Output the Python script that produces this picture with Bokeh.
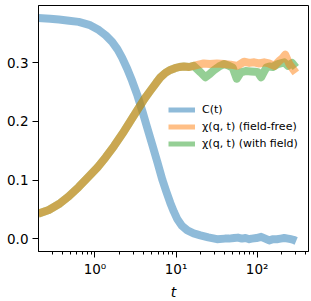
from bokeh.plotting import figure
from bokeh.models import (Range1d, FixedTicker, PrintfTickFormatter, Legend, LegendItem,
                          ColumnDataSource)
from bokeh.embed import file_html
from bokeh.resources import INLINE

# ---- data ----
t_C = [0.2, 0.28, 0.36, 0.48, 0.63, 0.85, 1.12, 1.36, 1.63, 1.9, 2.16, 2.5, 2.88, 3.35, 3.84,
       4.4, 5.1, 5.9, 6.8, 7.6, 8.5, 9.4, 10.3, 11.8, 13.8, 16.5, 20, 25, 32, 40, 45, 52, 58,
       65, 72, 80, 86, 98, 112, 126, 141, 158, 175, 195, 216, 240, 260, 280, 303]
C_vals = [0.3766, 0.3755, 0.374, 0.372, 0.370, 0.365, 0.356, 0.347, 0.336, 0.323, 0.309, 0.290,
          0.269, 0.244, 0.218, 0.190, 0.160, 0.130, 0.100, 0.080, 0.061, 0.046, 0.034, 0.022,
          0.014, 0.009, 0.0056, 0.002, -0.001, 0.000, 0.000, 0.001, 0.0017, 0.000, 0.001,
          -0.001, 0.000, 0.001, 0.003, 0.000, -0.003, -0.001, -0.001, 0.000, 0.001, 0.000,
          -0.001, -0.002, -0.004]

t_chi_early = [0.2, 0.27, 0.36, 0.475, 0.63, 0.84, 1.08, 1.36, 1.72, 2.18, 2.75, 3.5, 4.1,
               4.8, 5.7, 6.4, 7.4, 8.5, 9.7, 11, 12.5, 14.5]
chi_early = [0.0427, 0.049, 0.059, 0.072, 0.088, 0.106, 0.122, 0.139, 0.158, 0.179, 0.201,
             0.224, 0.239, 0.252, 0.266, 0.275, 0.283, 0.288, 0.291, 0.293, 0.294, 0.293]

t_free_late = [16.5, 19, 22, 26, 32, 39, 47, 57, 69, 80, 92, 106, 122, 140, 163, 188, 205,
               222, 250, 300]
chi_free_late = [0.295, 0.297, 0.299, 0.298, 0.299, 0.298, 0.297, 0.295, 0.302, 0.300, 0.301,
                 0.299, 0.301, 0.299, 0.295, 0.3035, 0.308, 0.314, 0.298, 0.283]

t_field_late = [16.5, 20, 23, 26, 29, 34, 39, 45, 50, 56, 63, 72, 84, 94, 102, 112, 122, 130,
                142, 156, 180, 216, 240, 270, 300]
chi_field_late = [0.295, 0.284, 0.2755, 0.281, 0.287, 0.294, 0.298, 0.295, 0.292, 0.273,
                  0.284, 0.286, 0.2855, 0.285, 0.284, 0.2755, 0.285, 0.292, 0.294, 0.293,
                  0.298, 0.301, 0.295, 0.300, 0.292]

labels = ["C(t)", "χ(q, t) (field-free)", "χ(q, t) (with field)"]
x_major = [1, 10, 100]
x_major_labels = ["10⁰", "10¹", "10²"]
x_minor = [0.2, 0.3, 0.4, 0.5, 0.6, 0.7, 0.8, 0.9, 2, 3, 4, 5, 6, 7, 8, 9,
           20, 30, 40, 50, 60, 70, 80, 90, 200, 300, 400]
y_major = [0.0, 0.1, 0.2, 0.3]

colors = ["#1f77b4", "#ff7f0e", "#2ca02c"]
FONT = "DejaVu Sans"

p = figure(width=310, height=302, x_axis_type="log", output_backend="svg",
           toolbar_location=None, min_border_left=38, min_border_right=2,
           min_border_top=5, min_border_bottom=48,
           x_range=Range1d(0.2015, 430), y_range=Range1d(-0.022, 0.398))

p.xgrid.visible = False
p.ygrid.visible = False
p.outline_line_color = "black"
p.outline_line_alpha = 1
p.outline_line_width = 1
p.background_fill_color = "white"
p.border_fill_color = "white"

src_C = ColumnDataSource(dict(t=t_C, v=C_vals))
src_free = ColumnDataSource(dict(t=t_chi_early + t_free_late, v=chi_early + chi_free_late))
src_field = ColumnDataSource(dict(t=t_chi_early + t_field_late, v=chi_early + chi_field_late))

# draw order: C, with field, field-free (orange on top)
for src, c in zip([src_C, src_field, src_free], [colors[0], colors[2], colors[1]]):
    p.line("t", "v", source=src, line_color=c, line_alpha=0.5, line_width=8,
           line_join="round", line_cap="butt")

# legend proxies (thinner lines as in the reference legend), placed outside the view
items = []
for lab, c in zip(labels, colors):
    r = p.line(x=[5000, 6000], y=[1, 1], line_color=c, line_alpha=0.5, line_width=5)
    items.append(LegendItem(label=lab, renderers=[r]))

legend = Legend(items=items, location=(130, 99), padding=0, margin=0, spacing=0,
                glyph_width=27, glyph_height=17, label_height=17, label_standoff=7,
                label_text_font=FONT, label_text_font_size="11px",
                label_text_color="black", border_line_color=None,
                background_fill_alpha=0)
p.add_layout(legend, "center")

xa = p.xaxis[0]
xa.ticker = FixedTicker(ticks=x_major, minor_ticks=x_minor)
xa.major_label_overrides = dict(zip(x_major, x_major_labels))
xa.axis_label = "t"
xa.axis_label_text_font_style = "italic"
xa.major_label_standoff = 3
xa.axis_label_standoff = 4

ya = p.yaxis[0]
ya.ticker = FixedTicker(ticks=y_major, minor_ticks=[])
ya.formatter = PrintfTickFormatter(format="%.1f")
ya.major_label_standoff = 4

for ax in [xa, ya]:
    ax.axis_line_color = "black"
    ax.major_tick_line_color = "black"
    ax.minor_tick_line_color = "black"
    ax.major_tick_out = 6
    ax.major_tick_in = 0
    ax.minor_tick_out = 3
    ax.minor_tick_in = 0
    ax.major_label_text_font = FONT
    ax.major_label_text_font_size = "13.5px"
    ax.major_label_text_color = "black"
    ax.axis_label_text_font = FONT
    ax.axis_label_text_font_size = "14px"
    ax.axis_label_text_color = "black"

open("out.html", "w").write(file_html(p, INLINE))
